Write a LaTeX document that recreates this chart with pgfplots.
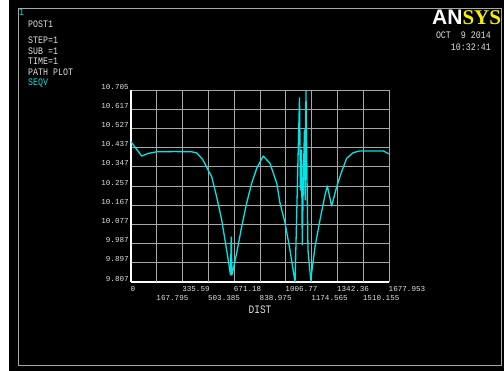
\documentclass[border=0pt]{standalone}
\usepackage{fontspec}
\usepackage{graphicx}
\usepackage{pgfplots}
\pgfplotsset{compat=1.18}
\setmainfont{Liberation Mono}
\newfontfamily\logosans{Liberation Sans}
\newfontfamily\logoserif{Liberation Serif}
\definecolor{acyan}{HTML}{00E6E6}
\definecolor{atext}{HTML}{E0E0E0}
\definecolor{agrid}{HTML}{A8A8A8}
\definecolor{ayellow}{HTML}{F2F200}
\newcommand{\tf}{\fontsize{8.3}{10}\selectfont}
\newcommand{\st}[1]{\scalebox{1}[1.2]{#1}}
\pgfplotstableread{
x y
0 10.463
69.6 10.396
110.6 10.408
167 10.416
286 10.417
395 10.416
429 10.410
468 10.378
501 10.331
525 10.299
557 10.206
590 10.097
622 9.957
639 9.879
647 9.840
652 10.017
656 9.840
661 9.854
687 9.941
720 10.066
752 10.175
785 10.269
818 10.339
860 10.396
904 10.362
948 10.269
969 10.176
1002 10.083
1034 9.957
1056 9.855
1067 9.809
1080 10.191
1086 10.378
1096 10.668
1102 10.237
1109 10.424
1114 9.980
1122 10.331
1128 10.518
1133 10.191
1138 10.702
1145 10.284
1151 9.957
1169 9.816
1197 9.972
1229 10.097
1262 10.214
1277 10.256
1305 10.162
1338 10.253
1370 10.323
1403 10.386
1446 10.412
1489 10.420
1641 10.420
1677.953 10.406
}\seqv
\begin{document}
\begin{tikzpicture}[x=1pt,y=1pt]
\useasboundingbox (0,0) rectangle (504,371);
\fill[white] (0,0) rectangle (504,371);
\fill[black] (9,0) rectangle (504,371);
\draw[agrid, line width=0.9pt] (18,6) rectangle (501,363);
% left header texts
\node[anchor=west, inner sep=0, text=acyan, font=\tf] at (19,359) {\st{1}};
\node[anchor=west, inner sep=0, text=atext, font=\tf] at (28,347) {\st{POST1}};
\node[anchor=west, inner sep=0, text=atext, font=\tf] at (28,330.8) {\st{STEP=1}};
\node[anchor=west, inner sep=0, text=atext, font=\tf] at (28,320) {\st{SUB =1}};
\node[anchor=west, inner sep=0, text=atext, font=\tf] at (28,309.3) {\st{TIME=1}};
\node[anchor=west, inner sep=0, text=atext, font=\tf] at (28,298.6) {\st{PATH PLOT}};
\node[anchor=west, inner sep=0, text=acyan, font=\tf] at (28,287.9) {\st{SEQV}};
% logo and date
\node[anchor=base west, inner sep=0] at (432,346) {\fontsize{21}{21}\selectfont{\logosans\bfseries\color{white}AN}{\logoserif\bfseries\color{ayellow}SYS}};
\node[anchor=east, inner sep=0, text=atext, font=\tf] at (491,336) {\st{OCT\ \ 9 2014}};
\node[anchor=east, inner sep=0, text=atext, font=\tf] at (491,324) {\st{10:32:41}};
\node[inner sep=0, text=atext, font=\fontsize{9.5}{11}\selectfont] at (260,61) {\st{DIST}};
\begin{axis}[
  at={(131pt,89pt)}, anchor=south west,
  scale only axis, width=258pt, height=192pt,
  xmin=0, xmax=1677.953, ymin=9.807, ymax=10.705,
  axis lines*=left,
  axis line style={white, line width=1.4pt, -},
  grid=major,
  major grid style={agrid, line width=0.8pt},
  major tick length=0pt,
  xtick={0,335.59,671.18,1006.77,1342.36,1677.953},
  xticklabels={0,335.59,671.18,1006.77,1342.36,1677.953},
  extra x ticks={167.795,503.385,838.975,1174.565,1510.155},
  extra x tick labels={167.795,503.385,838.975,1174.565,1510.155},
  extra x tick style={grid=major, xticklabel style={yshift=-9pt}},
  xticklabel style={anchor=north west, inner sep=0pt, yshift=-4.5pt, xshift=-0.5pt, text=atext, font=\fontsize{7.6}{9}\selectfont},
  ytick={9.807,9.8968,9.9866,10.0764,10.1662,10.256,10.3458,10.4356,10.5254,10.6152,10.705},
  yticklabels={9.807,9.897,9.987,10.077,10.167,10.257,10.347,10.437,10.527,10.617,10.705},
  yticklabel style={anchor=south east, inner sep=0.6pt, xshift=-1.5pt, text=atext, font=\fontsize{7.6}{9}\selectfont},
]
\addplot[acyan, line width=1.3pt, line join=round, mark=none] table[x=x, y=y] {\seqv};
\end{axis}
\end{tikzpicture}
\end{document}
